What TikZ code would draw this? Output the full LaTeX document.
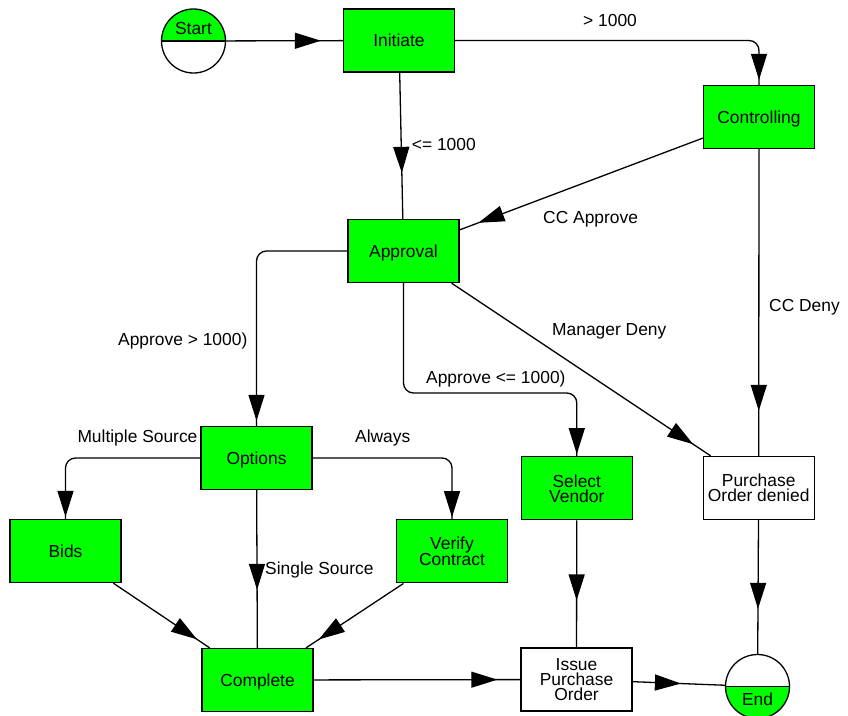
\documentclass[tikz,border=0pt]{standalone}
\usepackage{fontspec}
\setmainfont{Liberation Sans}
\usetikzlibrary{arrows.meta,decorations.markings,calc}
\definecolor{procgreen}{RGB}{0,255,0}
\newcommand\diagfont{\fontsize{17.4}{14.8}\selectfont}
\tikzset{
  task/.style={draw, line width=1.3pt, minimum width=111pt, minimum height=63pt,
    inner sep=0pt, align=center, font=\diagfont, text depth=-4pt},
  green task/.style={task, fill=procgreen},
  plain task/.style={task, fill=white},
  terminal/.style={circle, draw, line width=1.3pt, minimum size=64pt, inner sep=0pt},
  flow/.style={line width=1.3pt},
  tipat/.style={postaction={decorate, decoration={markings,
      mark=at position -#1 with {\arrow{Triangle[length=26pt,width=16pt]}}}}},
  edgelabel/.style={anchor=base west, inner sep=0pt, font=\diagfont},
  termlabel/.style={anchor=base, inner sep=0pt, font=\diagfont},
}
\begin{document}
\begin{tikzpicture}[x=1pt,y=-1pt]
\useasboundingbox (0,0) rectangle (848,715);
\fill[white] (0,0) rectangle (848,715);

% terminals
\node[terminal, path picture={
    \fill[procgreen] (path picture bounding box.north west) rectangle (path picture bounding box.east);
    \draw[line width=1.3pt] (path picture bounding box.west) -- (path picture bounding box.east);}]
  (start) at (193.5,41) {};
\node[termlabel] (starttext) at (193.5,34) {Start};
\node[terminal, path picture={
    \fill[procgreen] (path picture bounding box.west) rectangle (path picture bounding box.south east);
    \draw[line width=1.3pt] (path picture bounding box.west) -- (path picture bounding box.east);}]
  (end) at (757.5,686.5) {};
\node[termlabel] (endtext) at (757.5,705) {End};

% activities
\node[green task] (init) at (399,40.5) {Initiate};
\node[green task] (ctrl) at (759,117) {Controlling};
\node[green task] (appr) at (403.5,251) {Approval};
\node[green task] (opts) at (256.5,458) {Options};
\node[green task] (selv) at (576.8,488.3) {Select\\Vendor};
\node[plain task] (pod) at (758.7,488) {Purchase\\Order denied};
\node[green task] (bids) at (65.5,551) {Bids};
\node[green task] (verc) at (452,551.3) {Verify\\Contract};
\node[green task] (comp) at (257.5,680) {Complete};
\node[plain task] (issue) at (576.5,679.5) {Issue\\Purchase\\Order};

% transitions
\coordinate (vlevel) at (0,393);
\draw[flow, tipat=22pt] (start) -- (init);
\draw[flow, rounded corners=10pt, tipat=5pt] (init.east) -| (ctrl.north);
\draw[flow, tipat=46pt] (init) -- (appr);
\draw[flow, tipat=20pt] (ctrl) -- (appr);
\draw[flow, tipat=45pt] (ctrl) -- (pod);
\draw[flow, rounded corners=10pt, tipat=5pt] (appr.west) -| (opts.north);
\draw[flow, rounded corners=10pt, tipat=2pt] (appr.south) |- (selv.north |- vlevel) -- (selv.north);
\draw[flow, tipat=21pt] (appr) -- (pod);
\draw[flow, rounded corners=10pt, tipat=2pt] (opts.west) -| (bids.north);
\draw[flow, rounded corners=10pt, tipat=2pt] (opts.east) -| (verc.north);
\draw[flow, tipat=58pt] (opts) -- (comp);
\draw[flow, tipat=15pt] (bids) -- (comp);
\draw[flow, tipat=15pt] (verc) -- (comp);
\draw[flow, tipat=47pt] (selv) -- (issue);
\draw[flow, tipat=45pt] (pod) -- (end);
\draw[flow, tipat=23pt] (comp) -- (issue);
\draw[flow, tipat=44pt] (issue) -- (end);

% transition labels
\node[edgelabel] (l1) at (583,26) {> 1000};
\node[edgelabel] (l2) at (411.7,150.7) {<= 1000};
\node[edgelabel] (l3) at (543,223) {CC Approve};
\node[edgelabel] (l4) at (769,311) {CC Deny};
\node[edgelabel] (l5) at (552,335) {Manager Deny};
\node[edgelabel] (l6) at (118,345) {Approve > 1000)};
\node[edgelabel] (l7) at (426,383) {Approve <= 1000)};
\node[edgelabel] (l8) at (77.3,442.3) {Multiple Source};
\node[edgelabel] (l9) at (355,442) {Always};
\node[edgelabel] (l10) at (265,574) {Single Source};
\end{tikzpicture}
\end{document}
